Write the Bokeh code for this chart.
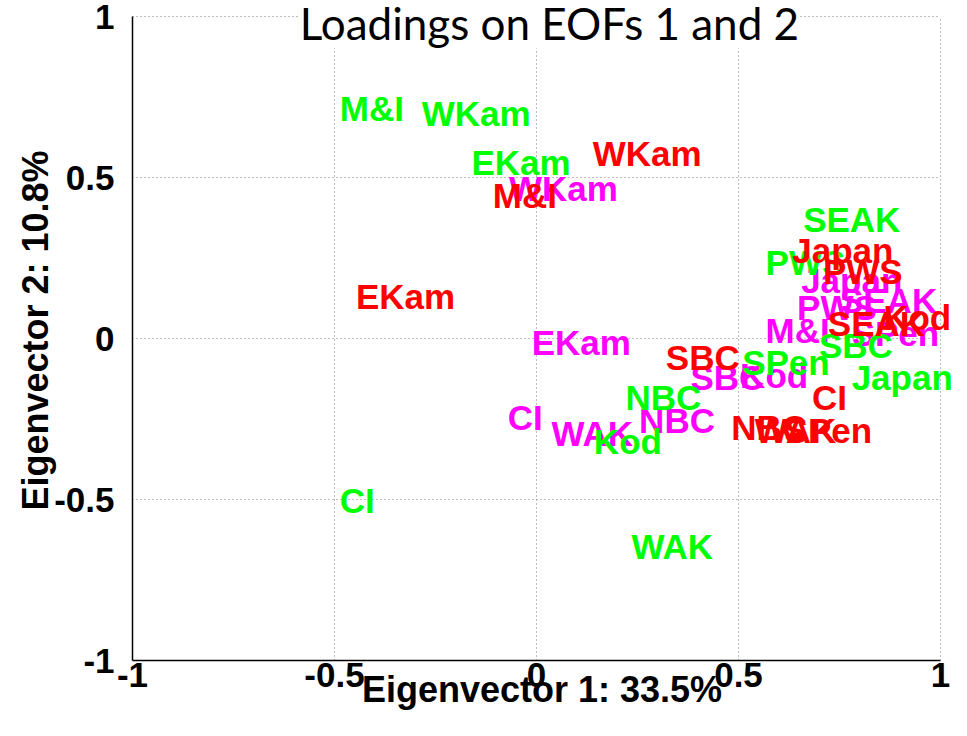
from bokeh.plotting import figure
from bokeh.models import ColumnDataSource, FixedTicker, Label, Range1d
from bokeh.core.properties import value
from bokeh.embed import file_html
from bokeh.resources import INLINE

# Loadings on EOF1 (x) and EOF2 (y) per region, three series
green_labels = ["M&I", "WKam", "EKam", "SEAK", "PWS", "SBC", "SPen", "Japan", "NBC", "Kod", "CI", "WAK"]
green_x = [-0.487, -0.284, -0.161, 0.660, 0.567, 0.699, 0.509, 0.780, 0.220, 0.142, -0.487, 0.235]
green_y = [0.714, 0.699, 0.547, 0.370, 0.236, -0.022, -0.075, -0.121, -0.183, -0.320, -0.503, -0.646]

red_labels = ["WKam", "M&I", "EKam", "Japan", "PWS", "Kod", "SEAK", "SBC", "CI", "NBC", "WAK", "SPen"]
red_x = [0.139, -0.108, -0.447, 0.633, 0.709, 0.858, 0.721, 0.320, 0.682, 0.482, 0.540, 0.614]
red_y = [0.575, 0.444, 0.130, 0.273, 0.208, 0.065, 0.047, -0.059, -0.183, -0.276, -0.286, -0.286]

magenta_labels = ["WKam", "EKam", "CI", "WAK", "NBC", "SBC", "Kod", "Japan", "PWS", "SEAK", "M&I", "SPen"]
magenta_x = [-0.068, -0.012, -0.071, 0.037, 0.254, 0.381, 0.504, 0.655, 0.645, 0.751, 0.567, 0.780]
magenta_y = [0.466, -0.012, -0.245, -0.295, -0.255, -0.121, -0.115, 0.180, 0.096, 0.118, 0.025, 0.016]

ticks = [-1, -0.5, 0, 0.5, 1]
tick_labels = ["-1", "-0.5", "0", "0.5", "1"]
axis_lo, axis_hi = -1, 1

title_text = "Loadings on EOFs 1 and 2"
x_title = "Eigenvector 1: 33.5%"
y_title = "Eigenvector 2: 10.8%"

# frame runs a little past +1 on x and y so that labels and the title are not clipped
p = figure(width=951, height=720, output_backend="svg", toolbar_location=None,
           x_range=Range1d(axis_lo, 1.0272), y_range=Range1d(axis_lo, 1.0497),
           min_border_left=132, min_border_right=0, min_border_top=0, min_border_bottom=60)
p.outline_line_color = None
p.background_fill_color = "white"
p.xgrid.visible = False
p.ygrid.visible = False

# dotted grid lines at the ticks, limited to the axes box
grid_ticks = [t for t in ticks if t > axis_lo]
n = len(grid_ticks)
p.segment(x0=grid_ticks, x1=grid_ticks, y0=[axis_lo] * n, y1=[axis_hi] * n,
          line_color="#7a7a7a", line_dash="1 3", line_width=1)
p.segment(x0=[axis_lo] * n, x1=[axis_hi] * n, y0=grid_ticks, y1=grid_ticks,
          line_color="#7a7a7a", line_dash="1 3", line_width=1)

FONT = value("Liberation Sans")
for labels, xs, ys, col in [(magenta_labels, magenta_x, magenta_y, "#FF00FF"),
                             (green_labels, green_x, green_y, "#00FF00"),
                             (red_labels, red_x, red_y, "#FF0000")]:
    src = ColumnDataSource(dict(x=xs, y=ys, t=labels))
    p.text(x="x", y="y", text="t", source=src, text_color=col, text_font=FONT,
           text_font_style="bold", text_font_size="35px", text_align="left",
           text_baseline="middle")

overrides = {float(t): s for t, s in zip(ticks, tick_labels)}
for ax in (p.xaxis[0], p.yaxis[0]):
    ax.ticker = FixedTicker(ticks=ticks)
    ax.major_label_overrides = overrides
    ax.bounds = (axis_lo, axis_hi)
    ax.major_tick_out = 0
    ax.major_tick_in = 0
    ax.minor_tick_out = 0
    ax.minor_tick_in = 0
    ax.axis_line_color = "black"
    ax.axis_line_width = 1.5
    ax.major_label_text_font = "Liberation Sans"
    ax.major_label_text_font_style = "bold"
    ax.major_label_text_font_size = "35px"
    ax.major_label_text_color = "black"
    ax.axis_label_text_font = "Liberation Sans"
    ax.axis_label_text_font_style = "bold"
    ax.axis_label_text_font_size = "36px"
    ax.axis_label_text_color = "black"

p.xaxis.axis_label = x_title
p.yaxis.axis_label = y_title
p.xaxis.major_label_standoff = 2
p.xaxis.axis_label_standoff = -21
p.yaxis.major_label_standoff = 18
p.yaxis.axis_label_standoff = -5

p.add_layout(Label(x=0.032, y=1, y_offset=-6, text=title_text, text_align="center",
                   text_baseline="alphabetic", text_font="Lato",
                   text_font_size="44px", text_color="black",
                   background_fill_color="white"))

open("out.html", "w").write(file_html(p, INLINE))
